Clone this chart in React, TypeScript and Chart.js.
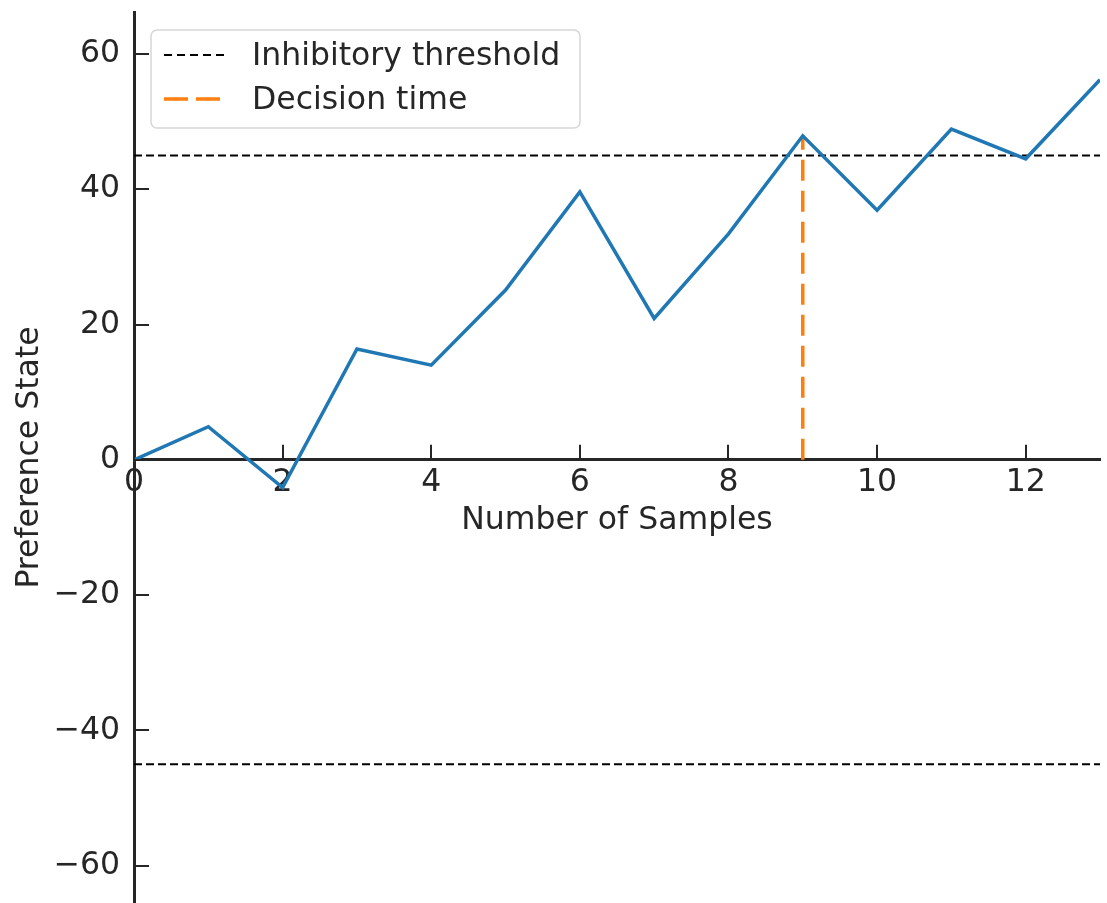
import React, { useEffect, useRef } from 'react';
import { Chart, registerables } from 'chart.js';

Chart.register(...registerables);

// Sample index and the accumulated preference after each sample
const samples = [0, 1, 2, 3, 4, 5, 6, 7, 8, 9, 10, 11, 12, 13];
const preference = [0, 4.9, -4.1, 16.4, 14.0, 25.1, 39.6, 20.9, 33.4, 47.9, 36.9, 48.9, 44.5, 56.2];

// Decision bounds and the sample at which the bound was first crossed
const upperThreshold = 45;
const lowerThreshold = -45;
const decisionSample = 9;

// Axis ranges and tick values
const xRange = [0, 13];
const yRange = [-65.5, 66.2];
const xTickValues = [0, 2, 4, 6, 8, 10, 12];
const yTickValues = [-60, -40, -20, 0, 20, 40, 60];

const INK = '#262626';
const FONT = 'DejaVu Sans';
const FONT_SIZE = 31.5;

// Inward-pointing tick marks drawn on the scales' own pixel positions
const inwardTicks = {
  id: 'inwardTicks',
  afterDraw(chart: any) {
    const { ctx, chartArea, scales } = chart;
    const x = scales.x;
    const y = scales.y;
    const y0 = y.getPixelForValue(0);
    const len = 15;
    ctx.save();
    ctx.strokeStyle = INK;
    ctx.lineWidth = 2;
    ctx.beginPath();
    xTickValues.forEach((v) => {
      const px = Math.round(x.getPixelForValue(v));
      ctx.moveTo(px, y0);
      ctx.lineTo(px, y0 - len);
    });
    yTickValues.forEach((v) => {
      const py = Math.round(y.getPixelForValue(v));
      ctx.moveTo(chartArea.left, py);
      ctx.lineTo(chartArea.left + len, py);
    });
    ctx.stroke();
    ctx.restore();
  },
};

// Framed legend in the upper-left corner of the plot
const boxedLegend = {
  id: 'boxedLegend',
  afterDraw(chart: any) {
    const { ctx, chartArea } = chart;
    const entries = chart.data.datasets.filter((d: any) => d.showInLegend);
    const bx = chartArea.left + 17;
    const by = chartArea.top + 18;
    const bw = 429;
    const bh = 98;
    const r = 6;
    ctx.save();
    ctx.fillStyle = 'rgba(255,255,255,0.8)';
    ctx.strokeStyle = '#d6d6d6';
    ctx.lineWidth = 1.5;
    ctx.beginPath();
    ctx.moveTo(bx + r, by);
    ctx.lineTo(bx + bw - r, by);
    ctx.arcTo(bx + bw, by, bx + bw, by + r, r);
    ctx.lineTo(bx + bw, by + bh - r);
    ctx.arcTo(bx + bw, by + bh, bx + bw - r, by + bh, r);
    ctx.lineTo(bx + r, by + bh);
    ctx.arcTo(bx, by + bh, bx, by + bh - r, r);
    ctx.lineTo(bx, by + r);
    ctx.arcTo(bx, by, bx + r, by, r);
    ctx.closePath();
    ctx.fill();
    ctx.stroke();

    ctx.font = `${FONT_SIZE}px "${FONT}"`;
    ctx.textBaseline = 'middle';
    ctx.textAlign = 'left';
    entries.forEach((d: any, i: number) => {
      const cy = by + 25 + i * 44;
      ctx.strokeStyle = d.borderColor;
      ctx.lineWidth = d.borderWidth;
      ctx.setLineDash(d.legendDash || d.borderDash || []);
      ctx.beginPath();
      ctx.moveTo(bx + 13, cy);
      ctx.lineTo(bx + 74, cy);
      ctx.stroke();
      ctx.setLineDash([]);
      ctx.fillStyle = INK;
      ctx.fillText(d.label, bx + 101, cy + 2);
    });
    ctx.restore();
  },
};

export default function App() {
  const canvasRef = useRef<HTMLCanvasElement | null>(null);

  useEffect(() => {
    const canvas = canvasRef.current;
    if (!canvas) return;

    const chart = new Chart(canvas, {
      type: 'line',
      data: {
        datasets: [
          {
            label: 'Preference State',
            data: samples.map((s, i) => ({ x: s, y: preference[i] })),
            borderColor: '#1f77b4',
            borderWidth: 3.5,
            pointRadius: 0,
            tension: 0,
            showInLegend: false,
          } as any,
          {
            label: 'Inhibitory threshold',
            data: [
              { x: xRange[0], y: upperThreshold },
              { x: xRange[1], y: upperThreshold },
            ],
            borderColor: '#000000',
            borderWidth: 2,
            borderDash: [8, 4],
            legendDash: [8, 5],
            pointRadius: 0,
            showInLegend: true,
          } as any,
          {
            label: 'Inhibitory threshold (lower)',
            data: [
              { x: xRange[0], y: lowerThreshold },
              { x: xRange[1], y: lowerThreshold },
            ],
            borderColor: '#000000',
            borderWidth: 2,
            borderDash: [8, 4],
            pointRadius: 0,
            showInLegend: false,
          } as any,
          {
            label: 'Decision time',
            data: [
              { x: decisionSample, y: 0 },
              { x: decisionSample, y: preference[samples.indexOf(decisionSample)] },
            ],
            borderColor: '#ff7f0e',
            borderWidth: 3.5,
            borderDash: [21, 10],
            legendDash: [24, 8],
            pointRadius: 0,
            showInLegend: true,
          } as any,
        ],
      },
      options: {
        responsive: false,
        animation: false,
        events: [],
        layout: { padding: { left: 0, right: 7, top: 12, bottom: 0 } },
        plugins: {
          legend: { display: false },
          tooltip: { enabled: false },
        },
        scales: {
          x: {
            type: 'linear',
            position: { y: 0 } as any,
            min: xRange[0],
            max: xRange[1],
            grid: { display: false, drawTicks: false, tickLength: 0 },
            border: { display: true, color: INK, width: 3 },
            afterBuildTicks: (scale: any) => {
              scale.ticks = xTickValues.map((v) => ({ value: v }));
            },
            afterFit: (scale: any) => {
              scale.paddingLeft = 0;
              scale.paddingRight = 0;
              scale.paddingTop = 0;
              scale.paddingBottom = 0;
            },
            ticks: {
              color: INK,
              font: { family: FONT, size: FONT_SIZE },
              padding: 4,
              maxRotation: 0,
              autoSkip: false,
            },
            title: {
              display: true,
              text: 'Number of Samples',
              color: INK,
              font: { family: FONT, size: FONT_SIZE },
              padding: { top: -4, bottom: 0 },
            },
          },
          y: {
            type: 'linear',
            position: 'left',
            min: yRange[0],
            max: yRange[1],
            grid: { display: false, drawTicks: false, tickLength: 0 },
            border: { display: true, color: INK, width: 3 },
            afterBuildTicks: (scale: any) => {
              scale.ticks = yTickValues.map((v) => ({ value: v }));
            },
            afterFit: (scale: any) => {
              scale.width = 134;
              scale.paddingTop = 0;
              scale.paddingBottom = 0;
            },
            ticks: {
              color: INK,
              font: { family: FONT, size: FONT_SIZE },
              padding: 14,
              autoSkip: false,
              callback: (v: any) => (Number(v) < 0 ? '\u2212' + Math.abs(Number(v)) : String(v)),
            },
            title: {
              display: true,
              text: 'Preference State',
              color: INK,
              font: { family: FONT, size: FONT_SIZE },
              padding: { top: 11, bottom: 0 },
            },
          },
        },
      },
      plugins: [inwardTicks, boxedLegend],
    });

    return () => chart.destroy();
  }, []);

  return (
    <div style={{ position: 'absolute', left: 0, top: 0, width: 1107, height: 903, background: '#ffffff' }}>
      <canvas ref={canvasRef} width={1107} height={903} />
    </div>
  );
}
